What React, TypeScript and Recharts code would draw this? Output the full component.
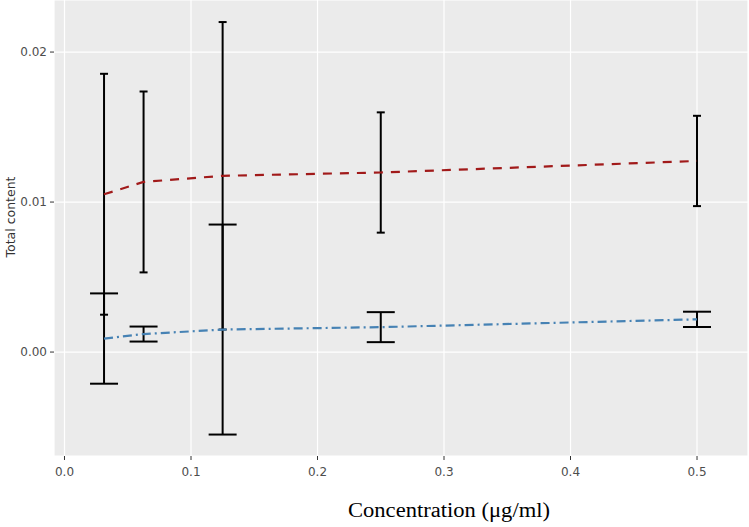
import React from "react";
import { ComposedChart, Line, XAxis, YAxis, CartesianGrid, ErrorBar } from "recharts";

const concentrations = [0.03125, 0.0625, 0.125, 0.25, 0.5];
const redMeans = [0.01052, 0.01134, 0.01175, 0.01197, 0.01274];
const redErrors = [0.00803, 0.00603, 0.01025, 0.00401, 0.00301];
const blueMeans = [0.0009, 0.0012, 0.0015, 0.00166, 0.00218];
const blueErrors = [0.00301, 0.0005, 0.007, 0.001, 0.00051];

const xTicks = [0, 0.1, 0.2, 0.3, 0.4, 0.5];
const yTicks = [0, 0.01, 0.02];

const data = concentrations.map((x, i) => ({
  x,
  red: redMeans[i],
  redErr: redErrors[i],
  blue: blueMeans[i],
  blueErr: blueErrors[i],
}));

const tickStyle = { fontFamily: "DejaVu Sans", fontSize: 12, fill: "#4D4D4D" };

export default function App() {
  return (
    <div style={{ position: "absolute", left: 0, top: 0, width: 749, height: 527, background: "#fff" }}>
      <ComposedChart width={749} height={527} data={data} margin={{ top: 0, right: 1, bottom: 0, left: 0 }}>
        <CartesianGrid fill="#EBEBEB" stroke="#FFFFFF" strokeWidth={1.2} />
        <XAxis
          dataKey="x"
          type="number"
          domain={[-0.0083, 0.5403]}
          allowDataOverflow
          ticks={xTicks}
          tickFormatter={(v: number) => v.toFixed(1)}
          height={71}
          axisLine={false}
          tickSize={4}
          tickMargin={7}
          tickLine={{ stroke: "#333333" }}
          tick={tickStyle}
          label={{
            content: () => (
              <text
                x={449}
                y={517}
                textAnchor="middle"
                fontFamily="Liberation Serif"
                fontSize={20}
                fill="#000"
                textLength={202}
                lengthAdjust="spacingAndGlyphs"
              >
                Concentration (μg/ml)
              </text>
            ),
          }}
        />
        <YAxis
          type="number"
          domain={[-0.00693, 0.02347]}
          allowDataOverflow
          ticks={yTicks}
          tickFormatter={(v: number) => v.toFixed(2)}
          width={54}
          axisLine={false}
          tickSize={4}
          tickMargin={3}
          tickLine={{ stroke: "#333333" }}
          tick={tickStyle}
          label={{
            content: () => (
              <text
                x={10}
                y={217}
                transform="rotate(-90 10 217)"
                textAnchor="middle"
                dominantBaseline="central"
                fontFamily="DejaVu Sans"
                fontSize={12.5}
                fill="#333333"
              >
                Total content
              </text>
            ),
          }}
        />
        <Line
          dataKey="red"
          type="linear"
          stroke="#A11A1A"
          strokeWidth={2.2}
          strokeDasharray="9 8"
          dot={false}
          activeDot={false}
          isAnimationActive={false}
        >
          <ErrorBar dataKey="redErr" width={4} stroke="#000" strokeWidth={2} direction="y" isAnimationActive={false} />
        </Line>
        <Line
          dataKey="blue"
          type="linear"
          stroke="#4682B4"
          strokeWidth={2.2}
          strokeDasharray="9 4 2 4"
          dot={false}
          activeDot={false}
          isAnimationActive={false}
        >
          <ErrorBar dataKey="blueErr" width={14} stroke="#000" strokeWidth={2} direction="y" isAnimationActive={false} />
        </Line>
      </ComposedChart>
    </div>
  );
}
